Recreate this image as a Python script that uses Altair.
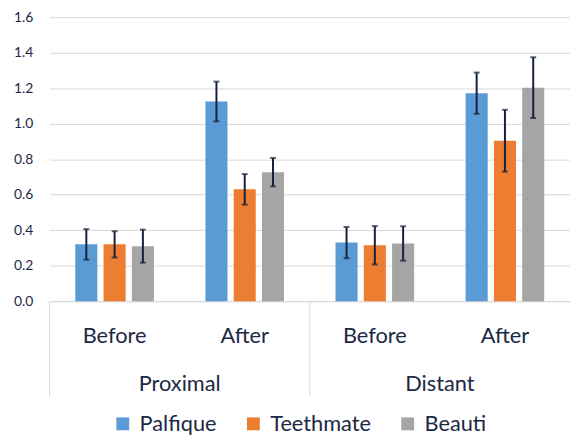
import altair as alt
import pandas as pd

regions = ["Proximal", "Distant"]
phases = ["Before", "After"]
materials = ["Palfique", "Teethmate", "Beauti"]
colors = ["#5B9BD5", "#ED7D31", "#A5A5A5"]
y_ticks = [0, 0.2, 0.4, 0.6, 0.8, 1.0, 1.2, 1.4, 1.6]

# means[region][phase] -> values per material
means = {
    "Proximal": {"Before": [0.32, 0.32, 0.31], "After": [1.125, 0.63, 0.727]},
    "Distant": {"Before": [0.33, 0.315, 0.325], "After": [1.172, 0.904, 1.203]},
}
errors = {
    "Proximal": {"Before": [0.086, 0.074, 0.093], "After": [0.112, 0.086, 0.08]},
    "Distant": {"Before": [0.088, 0.108, 0.097], "After": [0.116, 0.174, 0.171]},
}

groups = [f"{r}|{p}" for r in regions for p in phases]

rows = []
for r in regions:
    for p in phases:
        for i, m in enumerate(materials):
            v = means[r][p][i]
            e = errors[r][p][i]
            rows.append({"group": f"{r}|{p}", "material": m,
                         "value": v, "lo": v - e, "hi": v + e})
df = pd.DataFrame(rows)
reg_df = pd.DataFrame({"region": regions,
                       "start": [f"{r}|{phases[0]}" for r in regions],
                       "mid": [f"{r}|{phases[1]}" for r in regions]})

FONT = "Lato"
TXT = "#1c2845"
ERR = "#14213d"
GRID = "#d9d9d9"
H = 287

x_scale = alt.Scale(domain=groups, paddingInner=0, paddingOuter=0)
xo_scale = alt.Scale(domain=materials, paddingInner=0.22, paddingOuter=0.91)
y_scale = alt.Scale(domain=[0, 1.6], nice=False)

x_axis = alt.Axis(title=None, labelAngle=0, labelFontSize=22,
                  labelFont=FONT, labelColor=TXT, ticks=False,
                  domain=True, domainColor=GRID, grid=False,
                  labelPadding=25,
                  labelExpr="split(datum.label, '|')[1]")
y_axis = alt.Axis(title=None, values=y_ticks, tickCount=9,
                  format=".1f", labelFontSize=14, labelFont=FONT,
                  labelColor=TXT, ticks=False, domain=False,
                  labelOverlap=False, labelBound=False,
                  grid=True, gridColor=GRID, labelPadding=17)

x_enc = alt.X("group:N", scale=x_scale, axis=x_axis)
xo_enc = alt.XOffset("material:N", scale=xo_scale)

base = alt.Chart(df)

bars = base.mark_bar().encode(
    x=x_enc,
    xOffset=xo_enc,
    y=alt.Y("value:Q", scale=y_scale, axis=y_axis),
    color=alt.Color("material:N",
                    scale=alt.Scale(domain=materials, range=colors),
                    legend=alt.Legend(title=None, orient="none", direction="horizontal",
                                      legendX=63, legendY=400,
                                      symbolType="square", symbolSize=169,
                                      symbolStrokeWidth=0, labelFontSize=22,
                                      labelFont=FONT, labelColor=TXT,
                                      columnPadding=26, labelOffset=6)),
)

err = base.mark_rule(color=ERR, strokeWidth=2).encode(
    x=x_enc, xOffset=xo_enc,
    y=alt.Y("lo:Q", scale=y_scale, axis=y_axis), y2="hi:Q")
cap_lo = base.mark_tick(color=ERR, thickness=2, size=6).encode(
    x=x_enc, xOffset=xo_enc,
    y=alt.Y("lo:Q", scale=y_scale, axis=y_axis))
cap_hi = base.mark_tick(color=ERR, thickness=2, size=6).encode(
    x=x_enc, xOffset=xo_enc,
    y=alt.Y("hi:Q", scale=y_scale, axis=y_axis))

sep = alt.Chart(reg_df).mark_rule(color=GRID, strokeWidth=1).encode(
    x=alt.X("start:N", scale=x_scale, axis=x_axis, bandPosition=0),
    y=alt.value(H), y2=alt.value(H + 96))

reg_text = alt.Chart(reg_df).mark_text(fontSize=22, font=FONT, color=TXT,
                                       baseline="alphabetic").encode(
    x=alt.X("mid:N", scale=x_scale, axis=x_axis, bandPosition=0),
    y=alt.value(H + 91),
    text="region:N")

chart = alt.layer(bars, err, cap_lo, cap_hi, sep, reg_text).properties(
    width=526, height=H,
    padding={"left": 5, "top": 0, "right": 0, "bottom": 0}
).configure_view(stroke=None)

chart.save("out.html", embed_options={"renderer": "svg", "actions": False})
